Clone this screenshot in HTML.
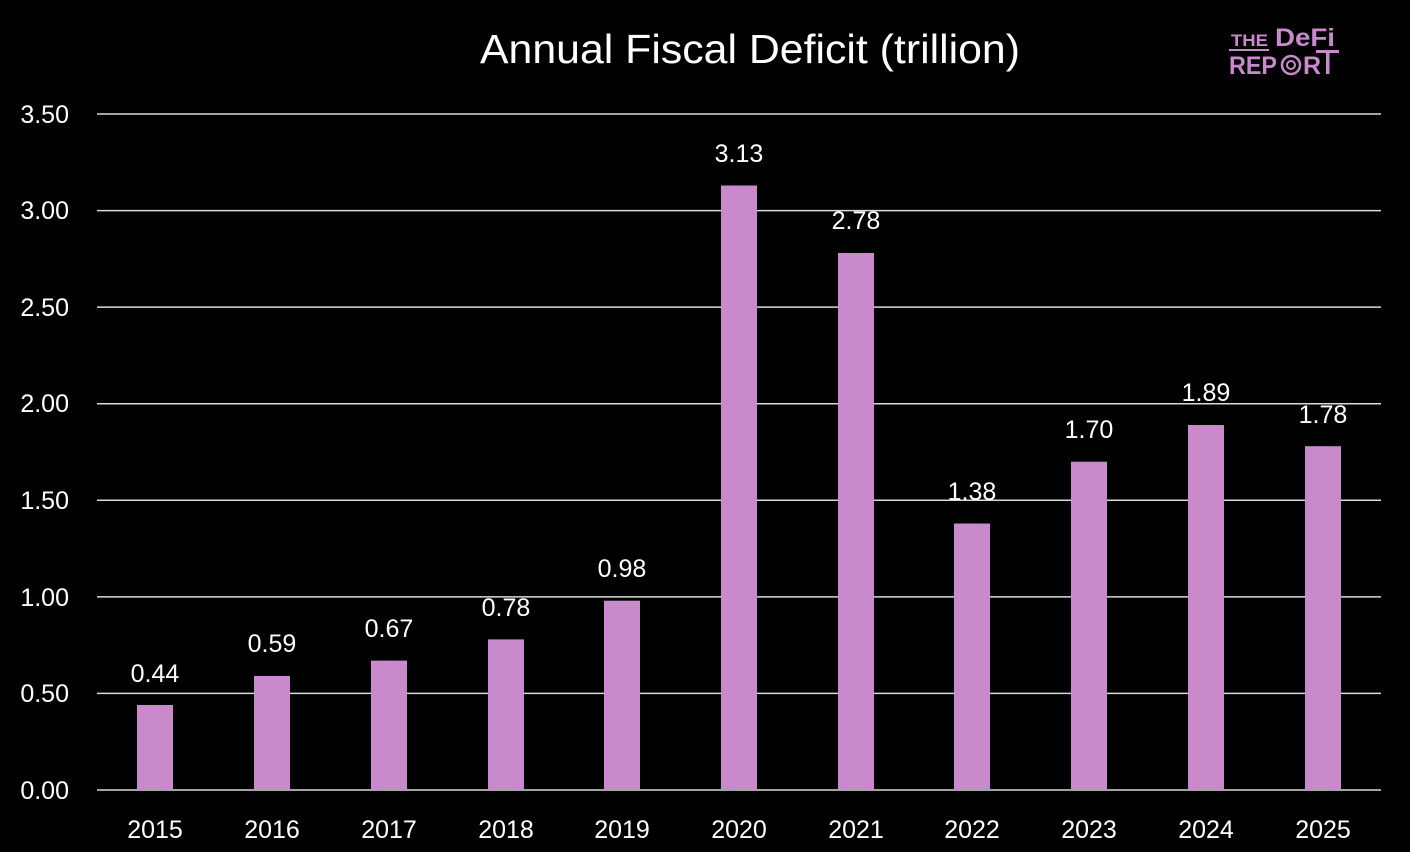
<!DOCTYPE html>
<html><head><style>body{margin:0;background:#000}svg{display:block}</style></head><body>
<svg width="1410" height="852" xmlns="http://www.w3.org/2000/svg" font-family="Liberation Sans, DejaVu Sans, sans-serif">
<rect width="1410" height="852" fill="#000"/>
<text x="750" y="63" fill="#fff" font-size="41" text-anchor="middle" textLength="540" lengthAdjust="spacingAndGlyphs">Annual Fiscal Deficit (trillion)</text>
<g fill="#C98ACC" font-weight="bold">
<text x="1231" y="46" font-size="17" textLength="37" lengthAdjust="spacingAndGlyphs">THE</text>
<rect x="1229" y="49" width="40" height="2"/>
<text x="1275" y="46" font-size="25" textLength="60" lengthAdjust="spacingAndGlyphs">DeFi</text>
<text x="1229" y="74" font-size="25" textLength="48" lengthAdjust="spacingAndGlyphs">REP</text>
<circle cx="1291" cy="65" r="9" fill="none" stroke="#C98ACC" stroke-width="2.5"/>
<circle cx="1291" cy="65" r="4" fill="none" stroke="#C98ACC" stroke-width="2"/>
<text x="1303" y="74" font-size="25">R</text>
<rect x="1316" y="50" width="23" height="3"/>
<rect x="1326" y="50" width="3.5" height="24"/>
</g>
<g stroke="#d9d9d9" stroke-width="1.5">
<line x1="97" x2="1381" y1="114" y2="114"/><line x1="97" x2="1381" y1="210.6" y2="210.6"/>
<line x1="97" x2="1381" y1="307.1" y2="307.1"/><line x1="97" x2="1381" y1="403.7" y2="403.7"/>
<line x1="97" x2="1381" y1="500.3" y2="500.3"/><line x1="97" x2="1381" y1="596.9" y2="596.9"/>
<line x1="97" x2="1381" y1="693.4" y2="693.4"/><line x1="97" x2="1381" y1="790" y2="790"/>
</g>
<g fill="#fff" font-size="25" text-anchor="end">
<text x="69" y="123">3.50</text><text x="69" y="219">3.00</text><text x="69" y="316">2.50</text>
<text x="69" y="412">2.00</text><text x="69" y="509">1.50</text><text x="69" y="606">1.00</text>
<text x="69" y="702">0.50</text><text x="69" y="799">0.00</text>
</g>
<g fill="#C98ACC">
<rect x="137" y="705" width="36" height="85"/>
<rect x="254" y="676" width="36" height="114"/>
<rect x="371" y="660.6" width="36" height="129.4"/>
<rect x="488" y="639.4" width="36" height="150.6"/>
<rect x="604" y="600.7" width="36" height="189.3"/>
<rect x="721" y="185.5" width="36" height="604.5"/>
<rect x="838" y="253" width="36" height="537"/>
<rect x="954" y="523.5" width="36" height="266.5"/>
<rect x="1071" y="461.7" width="36" height="328.3"/>
<rect x="1188" y="425" width="36" height="365"/>
<rect x="1305" y="446.2" width="36" height="343.8"/>
</g>
<g fill="#fff" font-size="25" text-anchor="middle">
<text x="155" y="682">0.44</text><text x="272" y="652">0.59</text><text x="389" y="637">0.67</text>
<text x="506" y="616">0.78</text><text x="622" y="577">0.98</text><text x="739" y="162">3.13</text>
<text x="856" y="229">2.78</text><text x="972" y="500">1.38</text><text x="1089" y="438">1.70</text>
<text x="1206" y="401">1.89</text><text x="1323" y="423">1.78</text>
</g>
<g fill="#fff" font-size="25" text-anchor="middle">
<text x="155" y="838">2015</text><text x="272" y="838">2016</text><text x="389" y="838">2017</text>
<text x="506" y="838">2018</text><text x="622" y="838">2019</text><text x="739" y="838">2020</text>
<text x="856" y="838">2021</text><text x="972" y="838">2022</text><text x="1089" y="838">2023</text>
<text x="1206" y="838">2024</text><text x="1323" y="838">2025</text>
</g>
</svg>
</body></html>
